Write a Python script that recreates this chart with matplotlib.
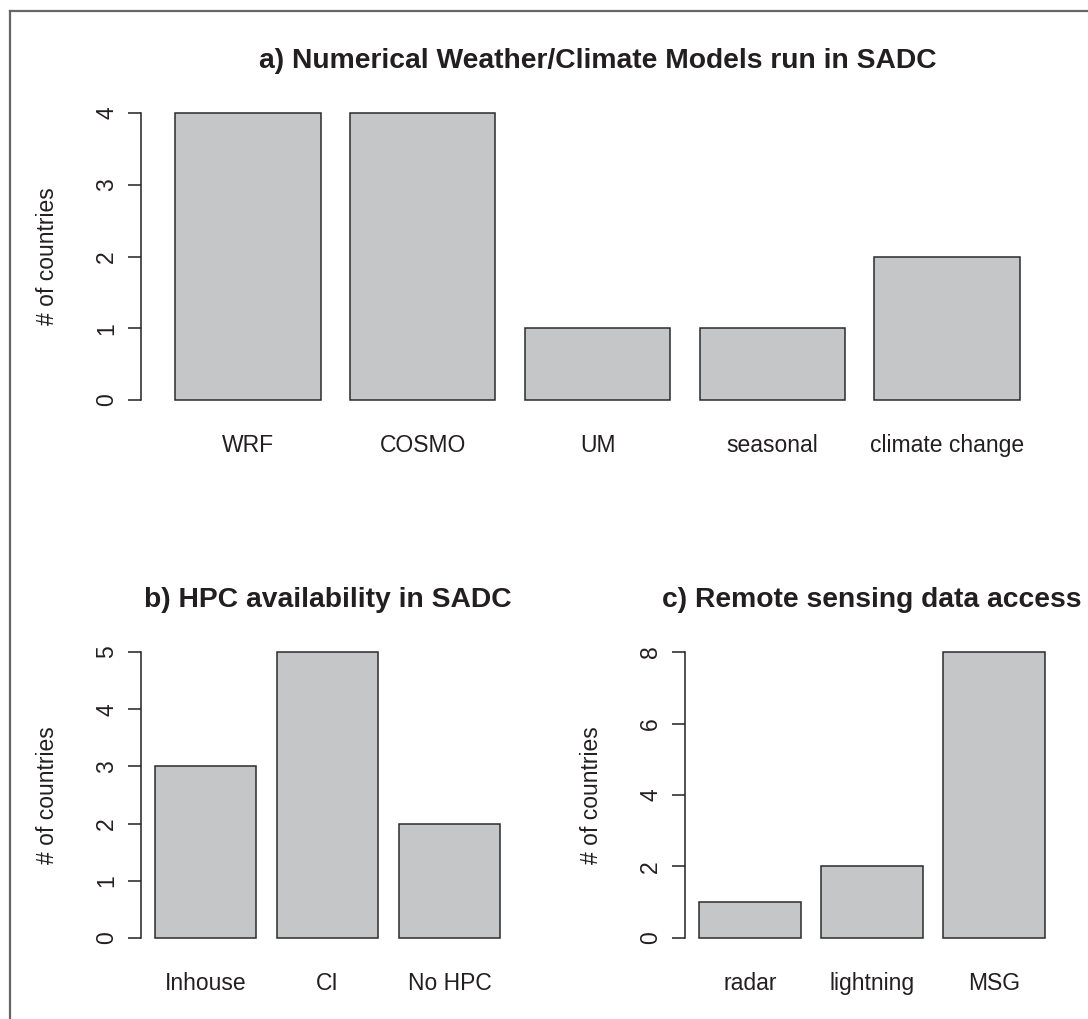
import matplotlib
matplotlib.use("Agg")
import matplotlib.pyplot as plt

plt.rcParams['font.family'] = ['Liberation Sans', 'DejaVu Sans']

# panel a
model_names = ['WRF', 'COSMO', 'UM', 'seasonal', 'climate change']
model_counts = [4, 4, 1, 1, 2]
model_ticks = [0, 1, 2, 3, 4]

# panel b
hpc_names = ['Inhouse', 'CI', 'No HPC']
hpc_counts = [3, 5, 2]
hpc_ticks = [0, 1, 2, 3, 4, 5]

# panel c
rs_names = ['radar', 'lightning', 'MSG']
rs_counts = [1, 2, 8]
rs_ticks = [0, 2, 4, 6, 8]

W, H = 1088, 1019
ink = '#231f20'
bar_fill = '#c5c6c8'
bar_edge = '#2b2b2b'

fig = plt.figure(figsize=(W / 100, H / 100), dpi=100)


def px_axes(x0, x1, y0, y1):
    # pixel box (top-down y) -> figure axes
    return fig.add_axes([x0 / W, 1 - y1 / H, (x1 - x0) / W, (y1 - y0) / H])


def barplot(ax, names, counts, ticks, title, box):
    n = len(counts)
    lefts = [0.2 + 1.2 * i for i in range(n)]
    ax.bar(lefts, counts, width=1.0, align='edge', color=bar_fill,
           edgecolor=bar_edge, linewidth=1.1)
    span = 1.2 * n - 0.2
    ax.set_xlim(0.2 - 0.04 * span, 0.2 + span + 0.04 * span)
    top = max(ticks)
    ax.set_ylim(-0.04 * top, 1.04 * top)
    for s in ['top', 'right', 'bottom']:
        ax.spines[s].set_visible(False)
    ax.spines['left'].set_bounds(0, top)
    ax.spines['left'].set_color(ink)
    ax.spines['left'].set_linewidth(1.1)
    ax.set_yticks(ticks)
    ax.set_yticklabels([str(t) for t in ticks])
    ax.tick_params(axis='y', length=9.5, width=1.1, color=ink, pad=7,
                   labelsize=16.5, labelcolor=ink, labelrotation=90)
    for lab in ax.get_yticklabels():
        lab.set_va('center')
    ax.set_xticks([l + 0.5 for l in lefts])
    ax.set_xticklabels(names)
    ax.tick_params(axis='x', length=0, pad=16, labelsize=16.5, labelcolor=ink)
    ax.set_title(title, fontsize=20.3, fontweight='bold', color=ink, pad=24)
    x0, x1, y0, y1 = box
    fig.text((x0 - 93) / W, 1 - (y0 + y1) / 2 / H, '# of countries',
             rotation=90, ha='center', va='center', fontsize=16.5, color=ink)


box_a = (141, 1054, 101.5, 411.5)
box_b = (141, 514, 640.6, 949.4)
box_c = (685, 1059, 640.6, 949.4)

barplot(px_axes(*box_a), model_names, model_counts, model_ticks,
        'a) Numerical Weather/Climate Models run in SADC', box_a)
barplot(px_axes(*box_b), hpc_names, hpc_counts, hpc_ticks,
        'b) HPC availability in SADC', box_b)
barplot(px_axes(*box_c), rs_names, rs_counts, rs_ticks,
        'c) Remote sensing data access', box_c)

# frame lines at top and left edge
fig.add_artist(plt.Line2D([10 / W, 1], [1 - 11 / H, 1 - 11 / H], color='#666666', lw=1.6))
fig.add_artist(plt.Line2D([10 / W, 10 / W], [0, 1 - 11 / H], color='#666666', lw=1.6))

fig.savefig('out.png', dpi=100, facecolor='white')
